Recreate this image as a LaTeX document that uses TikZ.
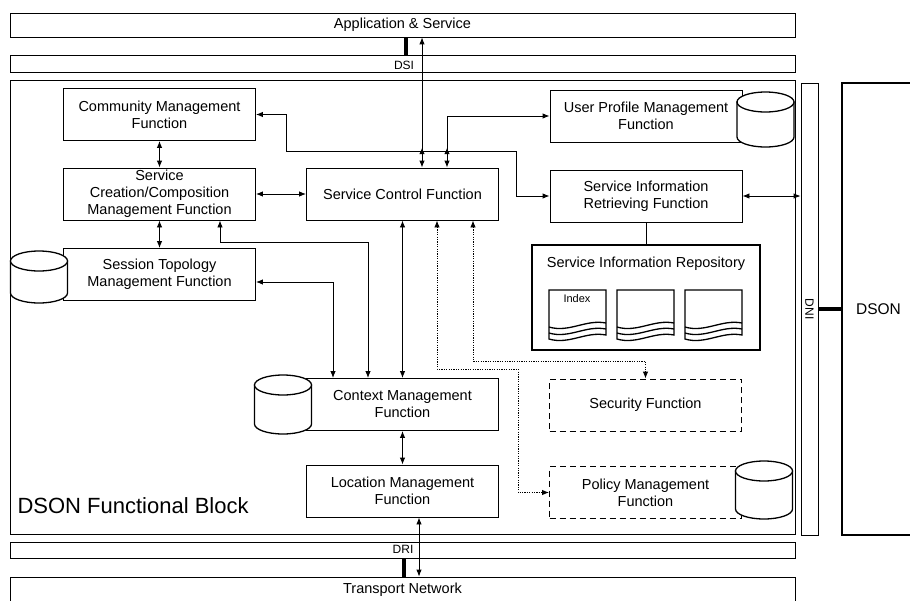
\documentclass[tikz,border=0pt]{standalone}
\usepackage{fontspec}
\setmainfont{Liberation Sans}
\usetikzlibrary{arrows.meta}
\newcommand{\labfont}{\fontsize{14.5}{17}\selectfont}

\begin{document}
\begin{tikzpicture}
[x=1pt,y=-1pt]
\tikzset{fbox/.style={draw,line width=.9pt,minimum width=192pt,minimum height=52pt,align=center,inner sep=1pt,font=\labfont}}
\tikzset{dfbox/.style={fbox,dash pattern=on 6pt off 4pt}}
\tikzset{bar/.style={draw,line width=.8pt,inner sep=0pt,font=\labfont}}
\tikzset{dbase/.style={line width=1.3pt,fill=white}}
\tikzset{dbl/.style={{Latex[length=7pt,width=5.5pt]}-{Latex[length=7pt,width=5.5pt]},line width=.9pt}}
\tikzset{dot/.style={dbl,dash pattern=on 1.2pt off 1.2pt}}
\tikzset{tip/.style={-{Latex[length=6pt,width=5.5pt]},line width=.9pt}}
\tikzset{thk/.style={line width=4pt}}

\clip (0,0) rectangle (910,600);
\useasboundingbox (0,0) rectangle (910,600);

% frames and reference points
\node [bar,minimum width=785pt,minimum height=24pt] (app) at (402.5,25) {Application \& Service};
\node [bar,minimum width=785pt,minimum height=17pt] (dsi) at (402.5,63.5) {};
\node [bar,minimum width=785pt,minimum height=454pt] (blk) at (402.5,307) {};
\node [bar,minimum width=785pt,minimum height=16pt] (dri) at (402.5,550) {};
\node [bar,minimum width=785pt,minimum height=36pt] (trans) at (402.5,595) {};
\node [bar,minimum width=17pt,minimum height=452pt] (dni) at (809.5,309) {};
\node [bar,line width=2pt,minimum width=73pt,minimum height=452pt,font=\fontsize{15.5}{17}\selectfont] (dson) at (878.5,309) {DSON};

\node [font=\fontsize{12}{12}\selectfont] (dsil) at (404,65) {DSI};
\node [font=\fontsize{12}{12}\selectfont] (dril) at (403,549) {DRI};
\node [font=\fontsize{12}{12}\selectfont,rotate=-90] (dnil) at (dni) {DNI};
\node [font=\labfont,anchor=north] (transl) at ([yshift=-3pt]trans.north) {Transport Network};
\node [font=\fontsize{22}{22}\selectfont,anchor=base west] (blkl) at (14,513) {DSON Functional Block};

% function boxes
\node [fbox] (comm) at (159.5,114.5) {Community Management\\Function};
\node [fbox] (scc) at (159.5,194) {Service\\Creation/Composition\\Management Function};
\node [fbox] (sess) at (159.5,274.5) {Session Topology\\Management Function};
\node [fbox] (ctrl) at (402.5,194) {Service Control Function};
\node [fbox] (upm) at (646,116) {User Profile Management\\Function};
\node [fbox] (sir) at (646,196) {Service Information\\Retrieving Function};
\node [fbox] (ctx) at (402.5,404.5) {Context Management\\Function};
\node [fbox] (loc) at (402.5,491) {Location Management\\Function};
\node [dfbox] (sec) at (645.5,405) {Security Function};
\node [dfbox] (pol) at (645.5,492.5) {Policy Management\\Function};

\node [draw,line width=1.6pt,minimum width=228pt,minimum height=105pt] (repo) at (646,297.5) {};
\node [font=\labfont] (repol) at (646,264) {Service Information Repository};
\foreach \x in {549,617,685} {
  \draw [line width=1.3pt,fill=white] (\x,290) -- (\x+57,290) -- (\x+57,335) .. controls (\x+37,331) and (\x+20,345) .. (\x,339) -- cycle;
  \foreach \b in {324,330}
    \draw [line width=1.3pt] (\x,\b+3) .. controls (\x+20,\b+9) and (\x+37,\b-5) .. (\x+57,\b-1);
}
\node [font=\fontsize{11}{11}\selectfont] (idx) at (577,299) {Index};

% databases
\foreach \cx/\cy/\h in {39/277/52,765.5/119.5/55,283/404.5/59,764/490/58} {
  \draw [dbase] (\cx-28.5,\cy-\h/2+10) -- (\cx-28.5,\cy+\h/2-10)
    arc [start angle=180,end angle=0,x radius=28.5,y radius=10]
    -- (\cx+28.5,\cy-\h/2+10) -- cycle;
  \draw [dbase] (\cx,\cy-\h/2+10) ellipse [x radius=28.5,y radius=10];
}

\coordinate (j1) at (220,242);
\coordinate (j2) at (368,242);
\coordinate (j3) at (333,282);
\coordinate (d1) at (437,369);
\coordinate (d2) at (518,369);
\coordinate (d3) at (473,361);
\coordinate (a1) at (422,0);
\coordinate (a2) at (447,0);
\coordinate (b1) at (286,151);
\coordinate (b2) at (516,0);
\coordinate (t1) at (419,0);
\coordinate (t2) at (404,0);
\coordinate (t3) at (406,0);

% connectors
\foreach \from/\to in {comm/scc,scc/sess,scc/ctrl,ctrl/ctx,ctx/loc}
  \draw [dbl] (\from) -- (\to);

\draw [dbl] (scc.south -| j1) |- (j2) -- (ctx.north -| j2);
\draw [dbl] (sess.east |- j3) -| (ctx.north -| j3);
\draw [dot] (ctrl.south -| d1) |- (d2) |- (pol.west);
\draw [dot] (ctrl.south -| d3) |- (sec.north |- d3) -- (sec.north);
\draw [dbl] (loc.south -| t1) -- (trans.north -| t1);
\draw [thk] (dri.south -| t2) -- (trans.north -| t2);
\draw [dbl] (ctrl.north -| a1) -- (app.south -| a1);
\draw [thk] (app.south -| t3) -- (dsi.north -| t3);
\draw [dbl] (ctrl.north -| a2) |- (upm.west);
\draw [dbl] (comm.east) -| (b1) -| (sir.west -| b2) -- (sir.west);
\foreach \c in {a1,a2} {
  \path (\c |- b1) coordinate (k);
  \draw [tip] ([yshift=-4pt]k) -- ([yshift=3pt]k);
}
\draw [dbl] (sir.east) -- (sir.east -| dni.west);
\draw [line width=.9pt] (sir) -- (repo);
\draw [thk] (dni.east) -- (dson.west);

\end{tikzpicture}
\end{document}
